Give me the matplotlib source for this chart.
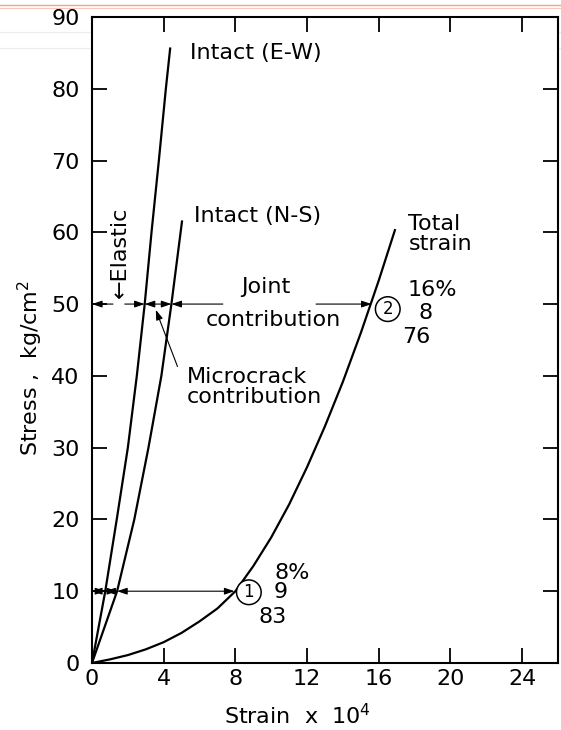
import numpy as np
import matplotlib.pyplot as plt
from matplotlib.lines import Line2D

plt.rcParams['font.family'] = ['DejaVu Sans']

# stress-strain curves (strain x 1e4, stress kg/cm2)
ew_strain = [0, 0.74, 1.38, 2.0, 2.5, 2.94, 3.32, 3.73, 4.12, 4.36]
ew_stress = [0, 10, 20, 30, 40, 50, 60, 70, 80, 85.6]

ns_strain = [0, 1.4, 2.36, 3.15, 3.87, 4.43, 5.02]
ns_stress = [0, 10, 20, 30, 40, 50, 61.5]

total_strain = [0, 1, 2, 3, 4, 5, 6, 7, 8, 9, 10, 11, 12, 13, 14, 15, 16, 16.9]
total_stress = [0, 0.5, 1.1, 1.9, 2.9, 4.2, 5.8, 7.6, 10.0, 13.5, 17.5, 22.1,
                27.3, 33.0, 39.2, 46.0, 53.3, 60.3]

# where each curve crosses the two stress levels
lvl_lo, lvl_hi = 10, 50
cross_lo = [0, 0.74, 1.4, 7.95]
cross_hi = [0, 2.94, 4.43, 15.6]

pct_1 = ["8%", "9", "83"]
pct_2 = ["16%", "8", "76"]

xticks = [0, 4, 8, 12, 16, 20, 24]
yticks = [0, 10, 20, 30, 40, 50, 60, 70, 80, 90]

fig = plt.figure(figsize=(5.61, 7.30), dpi=100)
ax = fig.add_axes([0.164, 0.0918, 0.8307, 0.885])

lw = 1.6
ax.plot(ew_strain, ew_stress, color='black', lw=lw)
ax.plot(ns_strain, ns_stress, color='black', lw=lw)
ax.plot(total_strain, total_stress, color='black', lw=lw)

ax.set_xlim(0, 26.0)
ax.set_ylim(0, 90)
ax.set_xticks(xticks)
ax.set_yticks(yticks)
ax.tick_params(axis='both', direction='in', length=11, width=1.3,
               top=True, right=True, labelsize=16)
ax.tick_params(axis='x', pad=4)
ax.tick_params(axis='y', pad=9)
for s in ax.spines.values():
    s.set_linewidth(1.5)

ax.set_xlabel("Strain  x  10$^{4}$", fontsize=16)
ax.xaxis.set_label_coords(0.44, -0.062)
ax.set_ylabel("Stress ,  kg/cm$^{2}$", fontsize=16)
ax.yaxis.set_label_coords(-0.1, 0.457)

ahead = dict(arrowstyle='<|-|>,head_length=0.5,head_width=0.17',
             color='black', lw=0.8, mutation_scale=12, shrinkA=0, shrinkB=0)
one = dict(arrowstyle='-|>,head_length=0.5,head_width=0.17',
           color='black', lw=0.8, mutation_scale=12, shrinkA=0, shrinkB=0)

# stress level 10: three double arrows
for a, b in zip(cross_lo[:-1], cross_lo[1:]):
    ax.annotate('', xy=(a, lvl_lo), xytext=(b, lvl_lo), arrowprops=ahead)

# stress level 50: elastic (split), microcrack, joint (split)
ax.annotate('', xy=(cross_hi[0], lvl_hi), xytext=(1.17, lvl_hi), arrowprops=one)
ax.annotate('', xy=(cross_hi[1], lvl_hi), xytext=(1.83, lvl_hi), arrowprops=one)
ax.annotate('', xy=(cross_hi[1], lvl_hi), xytext=(cross_hi[2], lvl_hi), arrowprops=ahead)
ax.annotate('', xy=(cross_hi[2], lvl_hi), xytext=(7.3, lvl_hi), arrowprops=one)
ax.annotate('', xy=(cross_hi[3], lvl_hi), xytext=(12.5, lvl_hi), arrowprops=one)

fs = 16
ax.text(1.55, 50.8, "\u2190Elastic", rotation=90, ha='center', va='bottom', fontsize=fs)
ax.text(5.45, 85.0, "Intact (E-W)", ha='left', va='center', fontsize=fs)
ax.text(5.7, 62.2, "Intact (N-S)", ha='left', va='center', fontsize=fs)
ax.text(17.65, 59.7, "Total\nstrain", ha='left', va='center', fontsize=fs,
        linespacing=1.0)
ax.text(9.7, 52.4, "Joint", ha='center', va='center', fontsize=fs)
ax.text(10.1, 47.8, "contribution", ha='center', va='center', fontsize=fs)
ax.text(5.3, 38.4, "Microcrack\ncontribution", ha='left', va='center',
        fontsize=fs, linespacing=1.0)
ax.annotate('', xy=(3.56, 49.2), xytext=(4.77, 41.3), arrowprops=one)

circ = dict(boxstyle='circle,pad=0.2', fc='white', ec='black', lw=1.1)
ax.text(8.75, 9.85, "1", ha='center', va='center', fontsize=12, bbox=circ)
ax.text(16.5, 49.3, "2", ha='center', va='center', fontsize=12, bbox=circ)

for txt, (x, y) in zip(pct_1, [(11.15, 12.5), (10.5, 9.85), (10.1, 6.45)]):
    ax.text(x, y, txt, ha='center', va='center', fontsize=fs)
for txt, (x, y) in zip(pct_2, [(19.0, 52.0), (18.6, 48.7), (18.1, 45.4)]):
    ax.text(x, y, txt, ha='center', va='center', fontsize=fs)

# faint slide lines along the top edge of the scan
for y, c, w in [(1 - 5 / 730, '#f2a878', 1.0), (1 - 8 / 730, '#f6c8b8', 0.8),
                (1 - 32 / 730, '#ececec', 0.8), (1 - 48 / 730, '#ececec', 0.8)]:
    fig.add_artist(Line2D([0, 1], [y, y], transform=fig.transFigure,
                          color=c, lw=w, zorder=0))

fig.savefig("out.png", dpi=100)
